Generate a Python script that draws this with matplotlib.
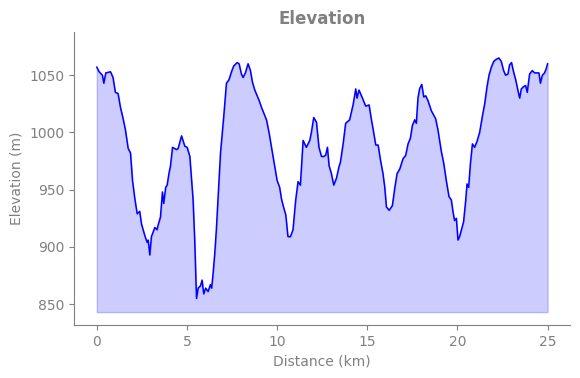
import numpy as np
import matplotlib.pyplot as plt

# distance (km) and elevation (m)
distance_km = [
    0.0, 0.13, 0.31, 0.39, 0.5, 0.76, 0.9, 1.03, 1.18, 1.31, 1.46, 1.59, 1.74, 1.87,
    1.98, 2.11, 2.24, 2.38, 2.48, 2.66, 2.79, 2.85, 2.94, 3.03, 3.22, 3.34, 3.4, 3.53,
    3.64, 3.71, 3.82, 3.9, 4.01, 4.08, 4.2, 4.42, 4.51, 4.7, 4.88, 5.01, 5.16, 5.34,
    5.43, 5.53, 5.62, 5.75, 5.84, 5.93, 6.04, 6.17, 6.3, 6.37, 6.45, 6.54, 6.63, 6.72,
    6.86, 7.04, 7.19, 7.33, 7.47, 7.59, 7.78, 7.89, 8.02, 8.11, 8.24, 8.39, 8.52, 8.63,
    8.76, 8.89, 9.0, 9.13, 9.26, 9.41, 9.55, 9.74, 9.87, 10.0, 10.14, 10.24, 10.37, 10.48,
    10.6, 10.74, 10.88, 11.03, 11.16, 11.29, 11.44, 11.62, 11.81, 11.9, 12.03, 12.18, 12.32,
    12.46, 12.58, 12.69, 12.79, 12.88, 13.01, 13.14, 13.29, 13.43, 13.51, 13.66, 13.8, 14.02,
    14.21, 14.36, 14.43, 14.54, 14.73, 14.91, 15.1, 15.23, 15.32, 15.47, 15.6, 15.73, 15.87,
    15.97, 16.06, 16.21, 16.39, 16.52, 16.65, 16.8, 16.98, 17.13, 17.26, 17.39, 17.5, 17.63,
    17.72, 17.81, 17.9, 18.02, 18.13, 18.24, 18.36, 18.55, 18.79, 18.92, 19.11, 19.24, 19.38,
    19.53, 19.66, 19.75, 19.84, 19.94, 20.03, 20.12, 20.22, 20.34, 20.46, 20.53, 20.62, 20.72,
    20.83, 20.95, 21.08, 21.23, 21.38, 21.51, 21.64, 21.75, 21.88, 22.01, 22.16, 22.3, 22.43,
    22.56, 22.67, 22.8, 22.89, 23.0, 23.11, 23.23, 23.35, 23.45, 23.54, 23.67, 23.78, 23.87,
    24.0, 24.15, 24.28, 24.41, 24.52, 24.6, 24.71, 24.83, 24.93, 25.0,
]
elevation_m = [
    1057, 1053, 1050, 1043, 1052, 1053, 1048, 1035, 1034, 1022, 1012, 1002, 986, 982,
    958, 942, 929, 931, 920, 910, 904, 906, 893, 909, 917, 915, 919, 926,
    948, 938, 952, 954, 965, 970, 987, 985, 986, 997, 988, 987, 979, 941,
    906, 855, 864, 866, 871, 859, 864, 861, 867, 864, 877, 894, 915, 941,
    982, 1014, 1043, 1046, 1053, 1058, 1061, 1060, 1051, 1048, 1052, 1060, 1054, 1044,
    1037, 1032, 1028, 1022, 1017, 1011, 1000, 982, 970, 958, 952, 942, 934, 928,
    909, 909, 915, 941, 957, 954, 993, 987, 993, 1000, 1013, 1009, 987,
    979, 979, 980, 987, 971, 964, 954, 960, 970, 974, 990, 1008, 1011,
    1024, 1038, 1030, 1037, 1030, 1023, 1024, 1011, 1003, 989, 989, 976, 964,
    952, 935, 932, 936, 951, 964, 968, 977, 980, 990, 995, 1006, 1011,
    1008, 1030, 1038, 1042, 1031, 1032, 1028, 1019, 1012, 1002, 983, 973, 958,
    944, 941, 931, 923, 925, 906, 909, 915, 922, 941, 955, 952, 973,
    990, 987, 992, 1000, 1014, 1025, 1040, 1050, 1057, 1062, 1064, 1065, 1062,
    1054, 1050, 1051, 1059, 1061, 1053, 1046, 1037, 1030, 1038, 1040, 1041, 1035,
    1051, 1054, 1052, 1052, 1052, 1043, 1050, 1052, 1056, 1060,
]
fill_base = 843

grey = "#808080"

fig = plt.figure(figsize=(5.8, 3.78), dpi=100)
ax = fig.add_axes([0.128, 0.140, 0.855, 0.775])

ax.plot(distance_km, elevation_m, color="blue", linewidth=1.1)
ax.fill_between(distance_km, fill_base, elevation_m, color="blue", alpha=0.2)

ax.set_ylim(831.7, 1087.6)
ax.set_title("Elevation", color=grey, fontweight="bold", fontsize=12)
ax.set_xlabel("Distance (km)", color=grey)
ax.set_ylabel("Elevation (m)", color=grey)
ax.set_xticks([0, 5, 10, 15, 20, 25])
ax.set_yticks([850, 900, 950, 1000, 1050])
ax.tick_params(colors=grey)
for side in ["top", "right"]:
    ax.spines[side].set_visible(False)
for side in ["left", "bottom"]:
    ax.spines[side].set_color(grey)

fig.savefig("out.png")
